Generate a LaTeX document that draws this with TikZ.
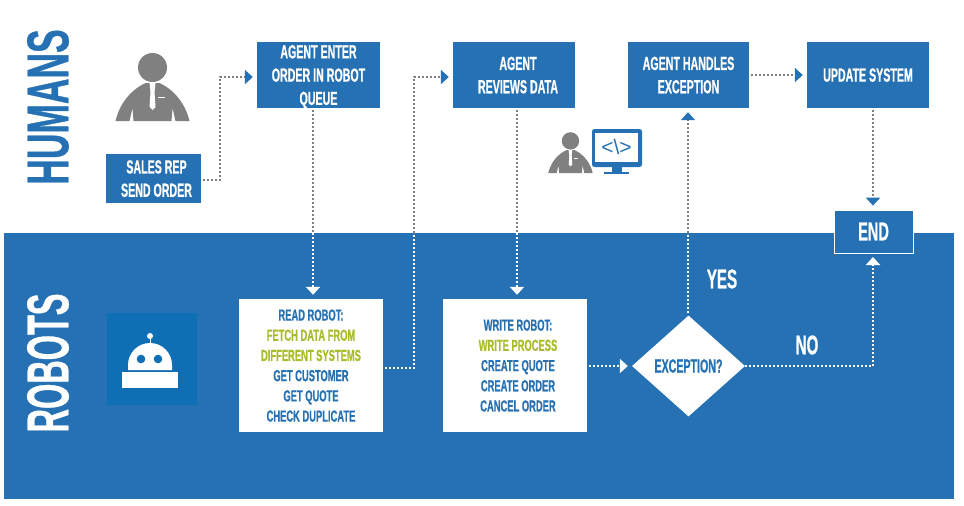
\documentclass[tikz,border=0pt]{standalone}
\usepackage{fontspec}
\setmainfont{Liberation Sans}
\newfontfamily\capsfont[FakeStretch=0.56,FakeBold=0.6]{Liberation Sans Bold}
\newfontfamily\smallcaps[FakeStretch=0.585,FakeBold=0.6]{Liberation Sans Bold}
\newfontfamily\humansfont[FakeStretch=0.60,FakeBold=0.6]{Liberation Sans Bold}
\newfontfamily\robotsfont[FakeStretch=0.55,FakeBold=0.6]{Liberation Sans Bold}
\usetikzlibrary{arrows.meta,shapes.geometric}
\definecolor{bandblue}{HTML}{2571B3}
\definecolor{tileblue}{HTML}{0E6FB5}
\definecolor{icongray}{HTML}{808080}
\definecolor{dotgray}{HTML}{7F7F7F}
\definecolor{lime}{HTML}{A9BD2C}
\newcommand{\fs}[2]{\fontsize{#1}{#2}\selectfont}
\newcommand{\hs}{\hspace*{8pt}}
\newcommand{\hw}{\hspace*{6pt}}
\newcommand{\personicon}[3]{%
  \begin{scope}[shift={(#1,#2)},scale=#3]
    \fill[icongray] (0,-53.5) circle (14.5);
    \fill[icongray] (-37,0) .. controls (-33,-17) and (-22,-31) .. (-7,-38) -- (7,-38)
      .. controls (22,-31) and (33,-17) .. (37,0) -- (23,0) -- (20,-13) -- (19,0) -- (-19,0) -- (-20,-13) -- (-23,0) -- cycle;
    \fill[white] (-3,-38) -- (3,-38) -- (2,-29) -- (3,-14) -- (0,-11) -- (-3,-14) -- (-2,-29) -- cycle;
    \fill[white] (5,-24.5) rectangle (12,-23.5);
  \end{scope}}
\tikzset{
  x=1pt,y=-1pt,
  flowbox/.style={fill=bandblue,text=white,align=center,inner sep=0pt,text depth=0pt,font=\capsfont\fs{19}{23.3}},
  whitebox/.style={fill=white,text=bandblue,align=center,inner sep=0pt,text depth=0pt,font=\smallcaps\fs{16}{20.2}},
  deciblock/.style={diamond,fill=white,text=bandblue,inner sep=0pt,font=\capsfont\fs{19}{23}},
  sidelabel/.style={text=bandblue,rotate=90,inner sep=0pt,font=\humansfont\fs{59}{59}},
  bandlabel/.style={text=white,rotate=90,inner sep=0pt,font=\robotsfont\fs{59}{59}},
  edgelabel/.style={text=white,inner sep=0pt,font=\capsfont\fs{27}{27}},
  dots/.style={line width=2pt,dash pattern=on 2pt off 2pt},
  grayline/.style={dots,draw=dotgray},
  whiteline/.style={dots,draw=white},
  bluetip/.style={-{Triangle[length=8pt,width=14pt,color=bandblue,sep=4pt]}},
  whitetip/.style={-{Triangle[length=8pt,width=14pt,color=white,sep=4pt]}},
}
\begin{document}
\begin{tikzpicture}
\useasboundingbox (0,0) rectangle (964,506);
\fill[white] (0,0) rectangle (964,506);
\fill[bandblue] (4,233) rectangle (954,499);

\node[sidelabel] (humans) at (48,107) {HUMANS};
\node[bandlabel] (robots) at (48,363) {ROBOTS};

% icons
\personicon{152.5}{121}{1}
\personicon{570.5}{173}{0.6}
\fill[bandblue,rounded corners=2.5pt] (592,129) rectangle (642,167);
\fill[white] (595,133) rectangle (638,162);
\fill[bandblue] (612,167) rectangle (622,172);
\fill[bandblue] (604,171.5) rectangle (629,174);
\node[text=bandblue,inner sep=0pt,font=\fs{21}{21}] (code) at (616.5,146.5) {<\textbackslash>};

\fill[tileblue] (107,313) rectangle (197,405);
\fill[white] (122,372) rectangle (178,388);
\fill[white] (128,370) -- (128,365) arc[start angle=180,end angle=360,radius=22] -- (172,370) -- cycle;
\draw[white,line width=1pt] (150,338) -- (150,344);
\fill[white] (150,336) circle (3);
\fill[tileblue] (141,359) circle (4.3);
\fill[tileblue] (158,359) circle (4.3);

% nodes
\node[flowbox,minimum width=95pt,minimum height=49pt] (sales) at (153.5,178.5) {\hw SALES REP\\\hw SEND ORDER};
\node[flowbox,minimum width=123pt,minimum height=66pt] (enter) at (318.5,75) {AGENT ENTER\\ORDER IN ROBOT\\QUEUE};
\node[flowbox,minimum width=122pt,minimum height=66pt] (reviews) at (514,75) {\hs AGENT\\\hs REVIEWS DATA};
\node[flowbox,minimum width=121pt,minimum height=66pt] (handles) at (688.5,75) {AGENT HANDLES\\EXCEPTION};
\node[flowbox,minimum width=122pt,minimum height=66pt] (update) at (868,75) {UPDATE SYSTEM};
\node[flowbox,draw=white,line width=0.8pt,minimum width=79pt,minimum height=43pt,font=\capsfont\fs{26}{26}] (end) at (873.5,231.5) {END};
\node[whitebox,minimum width=144pt,minimum height=133pt] (read) at (311,365.5) {READ ROBOT:\\\textcolor{lime}{FETCH DATA FROM}\\\textcolor{lime}{DIFFERENT SYSTEMS}\\GET CUSTOMER\\GET QUOTE\\CHECK DUPLICATE};
\node[whitebox,minimum width=144pt,minimum height=133pt] (write) at (515,365.5) {\hw WRITE ROBOT:\\\hw\textcolor{lime}{WRITE PROCESS}\\\hw CREATE QUOTE\\\hw CREATE ORDER\\\hw CANCEL ORDER};
\node[deciblock,minimum width=113pt,minimum height=101pt] (exc) at (688.5,366) {EXCEPTION?};
\node[edgelabel] (yes) at (722,279) {YES};
\node[edgelabel] (no) at (807,345) {NO};

% coordinates where dotted lines cross into the band
\coordinate (a1) at (313,233);
\coordinate (a2) at (414,233);
\coordinate (a3) at (517,233);
\coordinate (a4) at (688,233);

% connectors
\draw[grayline,bluetip] (sales.east |- 0,180) ++(2,0) -- ++(17,0) |- ([yshift=-2pt]enter.west);
\draw[grayline] (313,110) -- (a1);
\draw[whiteline,whitetip] (a1) -- (read.north -| a1);
\draw[whiteline] (385,368) -| (a2);
\draw[grayline,bluetip] (a2) |- ([yshift=-2pt]reviews.west);
\draw[grayline] (517,110) -- (a3);
\draw[whiteline,whitetip] (a3) -- (write.north -| a3);
\draw[whiteline,whitetip] (write.east |- exc.west) ++(2,0) -- (exc.west);
\draw[whiteline] (688,313) -- (a4);
\draw[grayline,bluetip] (a4) -- (handles.south -| a4);
\draw[grayline,bluetip] (handles.east) ++(2,0) -- (update.west);
\draw[grayline,bluetip] (873,110) -- (end.north -| 873,0);
\draw[whiteline,whitetip] (exc.east) -- (873,366) -- (873,253);
\end{tikzpicture}
\end{document}
